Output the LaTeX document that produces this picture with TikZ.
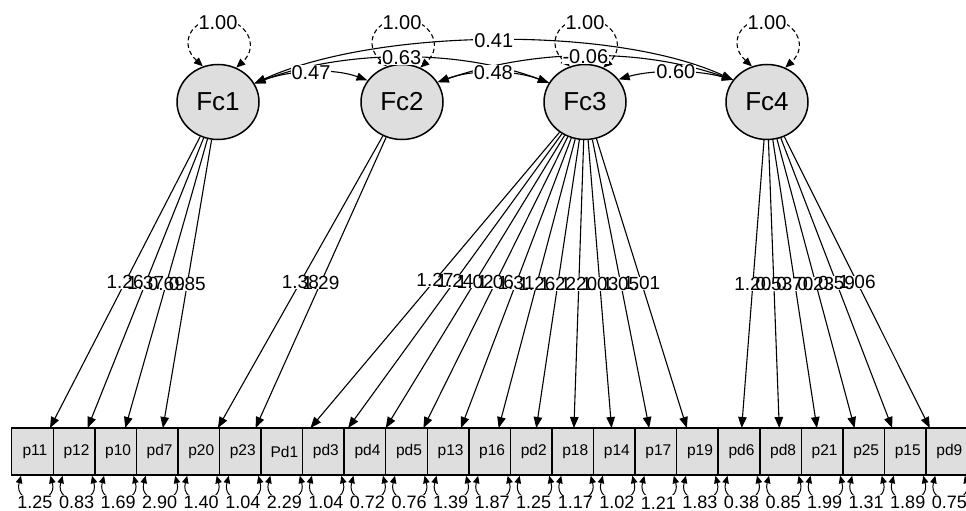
\documentclass[tikz,border=0pt]{standalone}
\usepackage{fontspec}
\setmainfont{Liberation Sans}
\usetikzlibrary{arrows.meta,calc,shapes.geometric}
\definecolor{boxgray}{RGB}{222,222,222}
\begin{document}
\begin{tikzpicture}[x=1pt,y=-1pt,
  lat/.style={ellipse, draw, line width=1.5pt, fill=boxgray, minimum width=82pt, minimum height=75pt, inner sep=0pt, font=\fontsize{26}{26}\selectfont},
  obs/.style={rectangle, draw, line width=1.5pt, fill=boxgray, minimum width=41.56pt, minimum height=47pt, inner sep=0pt, font=\fontsize{15.5}{15.5}\selectfont},
  load/.style={line width=1.1pt, -{Triangle[length=11pt,width=8.5pt]}},
  cov/.style={line width=1.1pt, {Triangle[length=11pt,width=8pt]}-{Triangle[length=11pt,width=8pt]}},
  var/.style={line width=1.1pt, dash pattern=on 4.5pt off 3pt, {Triangle[length=9pt,width=7.5pt]}-{Triangle[length=9pt,width=7.5pt]}},
  resid/.style={line width=1pt, {Triangle[length=7.5pt,width=6.5pt]}-{Triangle[length=7.5pt,width=6.5pt]}},
  clab/.style={fill=white, inner xsep=1pt, inner ysep=0.5pt, font=\fontsize{20}{20}\selectfont},
  lbg/.style={fill=white, inner xsep=0.5pt, inner ysep=0pt, font=\fontsize{19}{19}\selectfont},
  ltxt/.style={inner xsep=0.5pt, inner ysep=0pt, font=\fontsize{19}{19}\selectfont},
  rlab/.style={fill=white, inner xsep=0.5pt, inner ysep=1pt, font=\fontsize{18}{18}\selectfont},
]
\useasboundingbox (0,0) rectangle (966,511);
\clip (0,0) rectangle (966,511);

% latent factors
\node[lat] (F1) at (218,102) {Fc1};
\node[lat] (F2) at (402,102) {Fc2};
\node[lat] (F3) at (585,102) {Fc3};
\node[lat] (F4) at (767,102) {Fc4};

% observed variables
\def\obslist{p11/1.25, p12/0.83, p10/1.69, pd7/2.90, p20/1.40, p23/1.04, Pd1/2.29, pd3/1.04, pd4/0.72, pd5/0.76, p13/1.39, p16/1.87, pd2/1.25, p18/1.17, p14/1.02, p17/1.21, p19/1.83, pd6/0.38, pd8/0.85, p21/1.99, p25/1.31, p15/1.89, pd9/0.75}
\foreach \lab/\r [count=\i] in \obslist {
  \node[obs] (b\i) at ({11.7+41.56*(\i-0.5)},451.5) {\hspace*{5pt}\lab};
  \coordinate (T\i) at ($(b\i.center)+(0,10.5)$);
}

% residual variances
\foreach \lab/\r [count=\i] in \obslist {
  \draw[resid] ($(b\i.south)+(-11.5,0)$) .. controls +(-8,30) and +(8,30) .. ($(b\i.south)+(18,0)$);
  \node[rlab] (R\i) at ($(b\i.south)+(2.5,27)$) {\r};
}

% loadings
\def\loadlist{F1/1/1.26, F1/2/1.37, F1/3/0.69, F1/4/0.85, F2/5/1.38, F2/6/1.29, F3/7/1.27, F3/8/1.24, F3/9/1.02, F3/10/1.06, F3/11/1.31, F3/12/1.26, F3/13/1.22, F3/14/1.20, F3/15/1.03, F3/16/1.05, F3/17/1.01, F4/18/1.20, F4/19/0.53, F4/20/0.70, F4/21/0.23, F4/22/0.59, F4/23/1.06}
\foreach \f/\b/\v [count=\k] in \loadlist {
  \draw[load] (\f) -- ($(\f)!0.90556!(T\b)$) coordinate[midway] (L\k);
}
\foreach \f/\b/\v [count=\k] in \loadlist {
  \node[lbg] (LB\k) at (L\k) {\phantom{\v}};
}
\foreach \f/\b/\v [count=\k] in \loadlist {
  \node[ltxt] (LT\k) at (L\k) {\v};
}

% factor variances
\foreach \f in {F1,F2,F3,F4} {
  \draw[var] (\f.113) .. controls +(-24,-22) and +(-28,0) .. ($(\f)+(0,-83)$) .. controls +(28,0) and +(24,-22) .. (\f.62);
  \node[clab] (V\f) at ($(\f)+(0,-79)$) {1.00};
}

% covariances
\draw[cov] (F1.27) .. controls +(120,-55) and +(-120,-55) .. (F4.147) node[pos=0.5,clab] (c14) {0.41};
\draw[cov] (F1.27) .. controls +(90,-34) and +(-90,-34) .. (F3.152) node[pos=0.5,clab] (c13) {0.63};
\draw[cov] (F2.29) .. controls +(95,-33) and +(-95,-33) .. (F4.147) node[pos=0.5,clab] (c24) {-0.06};
\draw[cov] (F1.27) .. controls +(35,-13) and +(-35,-13) .. (F2.148) node[pos=0.5,clab] (c12) {0.47};
\draw[cov] (F2.29) .. controls +(35,-13) and +(-35,-13) .. (F3.152) node[pos=0.5,clab] (c23) {0.48};
\draw[cov] (F3.34) .. controls +(35,-10) and +(-35,-10) .. (F4.147) node[pos=0.5,clab] (c34) {0.60};
\end{tikzpicture}
\end{document}
